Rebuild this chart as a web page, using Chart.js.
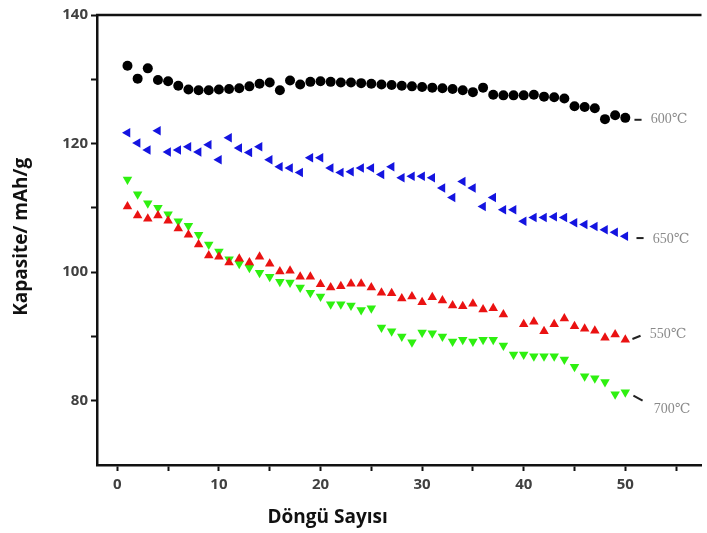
<!DOCTYPE html>
<html><head><meta charset="utf-8">
<script src="https://cdn.jsdelivr.net/npm/chart.js@4.4.0/dist/chart.umd.min.js"></script>
<style>html,body{margin:0;padding:0;background:#fff;}canvas{display:block;}</style>
</head><body>
<canvas id="c" width="707" height="533"></canvas>
<script>
const cycles = Array.from({length: 50}, (_, i) => i + 1);
const cap600 = [132.1,130.1,131.7,129.9,129.7,129.0,128.4,128.3,128.3,128.4,128.5,128.6,128.9,129.3,129.5,128.3,129.8,129.2,129.6,129.7,129.6,129.5,129.5,129.4,129.3,129.2,129.1,129.0,128.9,128.8,128.7,128.6,128.5,128.3,128.0,128.7,127.6,127.5,127.5,127.5,127.6,127.3,127.2,127.0,125.8,125.7,125.5,123.8,124.4,124.0];
const cap650 = [121.7,120.1,119.0,122.0,118.7,119.0,119.5,118.7,119.8,117.5,120.9,119.3,118.6,119.5,117.5,116.4,116.2,115.5,117.8,117.8,116.2,115.5,115.6,116.2,116.2,115.2,116.4,114.7,114.9,114.9,114.7,113.1,111.6,114.1,113.1,110.2,111.6,109.7,109.7,107.9,108.5,108.5,108.6,108.5,107.7,107.4,107.1,106.6,106.2,105.6];
const cap550 = [110.2,108.8,108.3,108.8,108.0,106.8,105.8,104.3,102.6,102.4,101.5,102.1,101.5,102.4,101.3,100.1,100.2,99.3,99.3,98.1,97.6,97.8,98.2,98.2,97.6,96.8,96.7,95.9,96.2,95.3,96.1,95.6,94.8,94.7,95.1,94.2,94.4,93.4,null,91.9,92.3,90.8,91.9,92.8,91.6,91.2,90.9,89.8,90.3,89.5];
const cap700 = [114.4,112.1,110.7,110.0,109.0,107.9,107.2,105.8,104.3,103.2,102.0,101.3,100.7,99.9,99.3,98.5,98.4,97.6,96.8,96.2,95.0,95.0,94.8,94.1,94.4,91.4,90.8,90.0,89.1,90.6,90.5,90.0,89.2,89.5,89.2,89.5,89.5,88.6,87.2,87.2,86.9,86.9,86.9,86.4,85.3,83.8,83.5,82.9,81.0,81.3];
const xTickValues = [0,5,10,15,20,25,30,35,40,45,50,55];
const yTickValues = [80,90,100,110,120,130,140];
const seriesLabels = ['600℃','650℃','550℃','700℃'];
const labelAnchors = [[52.5,123.7],[52.7,105.1],[52.4,90.3],[52.8,78.7]];
const dashFrom = [[50.9,123.7],[51.1,105.3],[50.7,89.6],[50.8,80.8]];
const dashTo = [[51.6,123.7],[51.8,105.3],[51.5,90.1],[51.7,80.0]];
const xTitle = 'Döngü Sayısı';
const yTitle = 'Kapasite/ mAh/g';

function pts(arr){ return cycles.map((c,i)=>({x:c,y:arr[i]})); }
const titleFont = 'bold 19px "Open Sans", "Liberation Sans", sans-serif';

const extras = {
  id:'extras',
  afterDraw(chart){
    const ctx = chart.ctx, a = chart.chartArea, xs = chart.scales.x, ys = chart.scales.y;
    ctx.save();
    ctx.strokeStyle = '#111'; ctx.lineWidth = 2.5;
    ctx.beginPath(); ctx.moveTo(a.left-1, a.top); ctx.lineTo(a.right, a.top); ctx.stroke();
    ctx.font = '14px "Liberation Serif", "DejaVu Serif", serif';
    ctx.fillStyle = '#8a8a8a'; ctx.textBaseline = 'middle'; ctx.textAlign = 'left';
    seriesLabels.forEach((t,i)=>{
      ctx.fillText(t, xs.getPixelForValue(labelAnchors[i][0]), ys.getPixelForValue(labelAnchors[i][1]));
      ctx.strokeStyle = '#222'; ctx.lineWidth = 2;
      ctx.beginPath();
      ctx.moveTo(xs.getPixelForValue(dashFrom[i][0]), ys.getPixelForValue(dashFrom[i][1]));
      ctx.lineTo(xs.getPixelForValue(dashTo[i][0]), ys.getPixelForValue(dashTo[i][1]));
      ctx.stroke();
    });
    // axis titles
    ctx.fillStyle = '#111'; ctx.font = titleFont; ctx.textAlign = 'center'; ctx.textBaseline = 'middle';
    ctx.fillText(xTitle, xs.getPixelForValue(20.7), a.bottom + 53);
    ctx.translate(22, ys.getPixelForValue(105.5));
    ctx.rotate(-Math.PI/2);
    ctx.fillText(yTitle, 0, 0);
    ctx.restore();
  }
};

const tickFont = {family:'"Open Sans", "Liberation Sans", sans-serif', size:15, weight:'bold'};

new Chart(document.getElementById('c'), {
  type:'scatter',
  data:{datasets:[
    {label:seriesLabels[0], data:pts(cap600), pointStyle:'circle', pointRadius:5, backgroundColor:'#000', borderColor:'#000', borderWidth:0},
    {label:seriesLabels[1], data:pts(cap650), pointStyle:'triangle', rotation:-90, pointRadius:5.5, backgroundColor:'#1414e0', borderColor:'#1414e0', borderWidth:0},
    {label:seriesLabels[2], data:pts(cap550), pointStyle:'triangle', rotation:0, pointRadius:5.5, backgroundColor:'#ea1212', borderColor:'#ea1212', borderWidth:0},
    {label:seriesLabels[3], data:pts(cap700), pointStyle:'triangle', rotation:180, pointRadius:5.5, backgroundColor:'#2ef010', borderColor:'#2ef010', borderWidth:0}
  ]},
  options:{
    responsive:false, animation:false,
    layout:{padding:{top:15, right:0, left:0, bottom:0}},
    plugins:{legend:{display:false}, tooltip:{enabled:false}},
    scales:{
      x:{type:'linear', min:-2, max:57.5,
        afterBuildTicks(s){ s.ticks = xTickValues.map(v=>({value:v})); },
        afterFit(s){ s.height = 68; },
        ticks:{autoSkip:false, maxRotation:0, color:'#404040', font:tickFont, padding:5,
          callback:(v)=> v%10===0 ? String(v) : ''},
        grid:{drawOnChartArea:false, drawTicks:true, tickLength:6, tickColor:'#111', tickWidth:2},
        border:{display:true, color:'#111', width:2.5}
      },
      y:{type:'linear', min:70, max:140,
        afterBuildTicks(s){ s.ticks = yTickValues.map(v=>({value:v})); },
        afterFit(s){ s.width = 97; },
        ticks:{autoSkip:false, color:'#404040', font:tickFont, padding:3,
          callback:(v)=> v%20===0 ? String(v) : ''},
        grid:{drawOnChartArea:false, drawTicks:true, tickLength:6, tickColor:'#111', tickWidth:2},
        border:{display:true, color:'#111', width:2.5}
      }
    }
  },
  plugins:[extras]
});
</script>
</body></html>
